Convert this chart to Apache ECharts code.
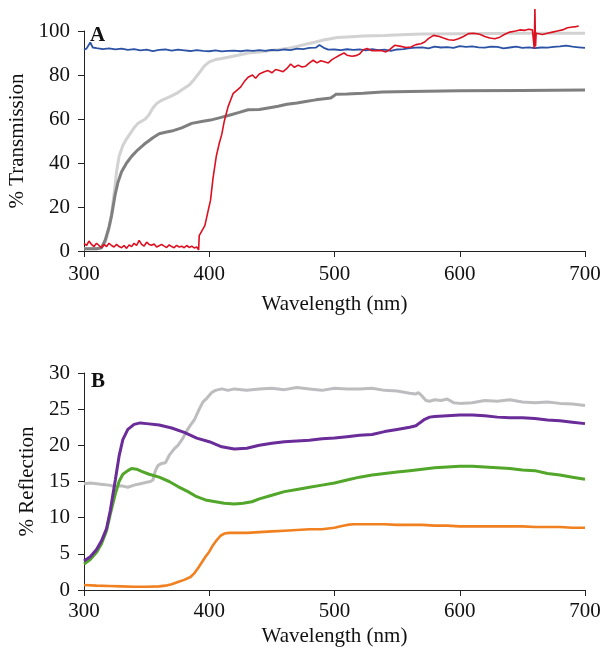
<!DOCTYPE html>
<html><head><meta charset="utf-8">
<script src="https://cdn.jsdelivr.net/npm/echarts@6/dist/echarts.min.js"></script>
<style>html,body{margin:0;padding:0;background:#fff}#c{width:600px;height:650px}</style>
</head><body><div id="c"></div>
<script>
// ---- Panel A: % Transmission ----
const xTicks = [300, 400, 500, 600, 700];
const transTicks = [0, 20, 40, 60, 80, 100];
const reflTicks = [0, 5, 10, 15, 20, 25, 30];

const blueX = [300,302,305,307,310,315,320,325,330,335,340,345,350,355,360,365,370,375,380,385,390,395,400,405,410,415,420,425,430,435,440,445,450,455,460,465,470,475,480,485,488,492,495,500,505,510,515,520,525,530,535,540,545,550,555,560,565,570,575,580,585,590,595,600,605,610,615,620,625,630,635,640,645,650,655,660,665,670,675,680,685,690,695,700];
const blueY = [91.5,92,94.8,92.5,92.2,91.8,92.1,91.6,92,91.4,91.8,91.2,91.5,90.9,91.4,91.6,91.1,91.5,91.2,90.9,91.3,91,90.8,91.2,90.7,91,91.1,90.8,91.2,91,91.3,91,91.4,91.2,91.6,91.3,92,91.8,92.3,92.4,93.6,92.2,91.5,91.6,91.3,91.7,91.4,91.6,91.2,91.7,91.3,91.5,91,91.6,91.8,92.2,92.4,92.6,92.1,92.9,92.5,92.7,92.3,93.1,92.8,93,92.6,92.4,92.9,92.8,92.1,92.5,92.9,92.3,92.6,92.2,92.5,92.4,92.8,93,93.4,92.9,92.6,92.3];

const lgrayX = [300,310,314,317,320,322,324,326,328,331,334,337,340,343,346,349,352,355,358,362,366,370,375,380,384,388,392,396,400,405,410,416,423,431,440,447,455,462,470,477,485,492,497,502,510,523,540,553,570,600,650,700];
const lgrayY = [1,1,1.5,4,10,17,26,36,43,48,51,53.5,56,58,59,60,62,65,67,68.5,69.5,70.5,72,74,75.5,78,81,84,86,87,87.5,88.2,89,90,90.5,91,91.5,92,93,94,95,96,96.5,97,97.3,97.7,98,98.3,98.6,98.8,99,99];

const dgrayX = [300,310,314,317,320,322,325,327,330,334,338,343,348,355,360,365,370,378,386,395,401,408,416,424,431,440,447,455,462,470,477,485,492,497,499,501,510,523,538,560,600,650,700];
const dgrayY = [1,1,1.5,5,11,16,26,31,36,40,43,46,48.5,51.5,53.3,54,54.5,56,58,59,59.5,60.5,61.7,63,64.2,64.3,65,65.8,66.7,67.3,68,68.7,69.2,69.5,70.3,71.2,71.4,71.7,72.3,72.5,72.8,73,73.2];

const redX = [300,302,304,306,308,310,312,314,316,318,320,322,324,326,328,330,332,334,336,338,340,342,344,346,348,350,352,354,356,358,360,362,364,366,368,370,372,374,376,378,380,382,384,386,388,390,391.5,392,394,396.5,399,401,403,405.6,408,410,412,415,417,419,422,425,428,431,434.5,437,440,444,447,450,453,456,459,462,465,468,471,474,477,480,483,486,489,492,495,498,501,504,507.6,510,514,517,520,523,526,530,534,538,541,544,548,553,557,561,565,569,572,575,579,583.7,587,591,595,599,603,607,611,616,620,624,628,632,636,640,644.6,648,652,655,658,659.5,660,660.5,661,662,666,670,674,678,682,686,690,693,695];
const redY = [3.5,2.5,4.5,3,2,3.5,2.5,1.5,3,2,3.5,2.5,1.8,3,2,1.5,2.5,1.2,2.8,2,3.5,2.5,4.8,3,2.2,4,3,2.6,3.2,1.8,2.4,3,2.2,1.6,2.8,2,1.5,2.6,1.8,2.2,1.5,2.5,1.6,2.2,1.4,1.8,0.5,7,9,11.5,18,23,33,43,49,53,59,65.5,68.5,71.5,73,74.5,77,79,80,78.5,80.5,81.5,82,81,82.5,82,81.5,83,85,83.5,84.5,83.6,84,85.5,86.7,85.5,86.5,86,85.5,87,88,89,90,89,88.5,88.8,89.5,91.5,92,91,91.2,91,90.5,91.5,93.5,93,92.5,92.7,93.8,94.2,95,96.5,98,97.5,96.8,96,95.8,96.5,97.5,98.8,99,98.5,97.5,96.8,96.5,97.2,98.5,99.5,100,100.5,100.3,100.8,100.5,92,110,93,99,98.8,98.4,99,99.5,100,100.5,101.5,101.8,102,102.3];

// ---- Panel B: % Reflection ----
const bgrayX = [300,305,310,315,320,325,330,335,340,345,350,353,355,357,359,362,365,368,372,375,379,382,385,388,392,395,398,402,405,410,415,420,430,440,450,460,470,480,490,500,510,520,530,540,550,560,565,567,570,573,576,580,585,590,595,600,610,620,630,640,650,660,670,680,690,700];
const bgrayY = [14.7,14.8,14.7,14.6,14.5,14.3,14.4,14.2,14.5,14.7,14.9,15,15.2,16.5,17.2,17.5,17.6,18.6,19.5,20,21,22,22.8,23.5,25,26,26.5,27.3,27.6,27.8,27.6,27.8,27.6,27.8,27.9,27.7,28,27.8,27.6,27.9,27.8,27.8,27.9,27.6,27.5,27.2,27.1,27.3,26.8,26.2,26.1,26.3,26.2,26.4,25.9,25.8,25.9,26.2,26.1,26.3,26.0,25.9,26.0,25.8,25.7,25.5];

const purpleX = [300,305,310,314,318,321,325,328,331,335,340,345,350,360,370,380,390,400,410,420,430,440,450,460,470,480,490,500,510,520,530,540,550,560,565,568,572,576,580,590,600,610,620,630,640,650,660,670,680,690,700];
const purpleY = [4,4.6,5.6,6.8,8.5,11,15.2,18.5,20.8,22.2,22.9,23.1,23,22.8,22.4,21.8,21,20.5,19.8,19.5,19.6,20,20.3,20.5,20.6,20.7,20.9,21,21.2,21.4,21.5,21.9,22.2,22.5,22.7,23.1,23.6,23.9,24,24.1,24.2,24.2,24.1,23.9,23.8,23.8,23.7,23.5,23.4,23.2,23];

const greenX = [300,305,310,314,318,321,325,328,331,335,338,342,346,352,360,368,375,383,390,398,405,412,420,427,434,440,450,460,470,480,490,500,510,520,530,540,550,560,570,580,590,600,610,620,630,640,650,660,670,680,690,700];
const greenY = [3.6,4.2,5.2,6.4,8.2,10.5,13.3,15,16,16.5,16.8,16.7,16.4,16,15.6,15,14.3,13.6,12.9,12.4,12.2,12,11.9,12,12.2,12.6,13.1,13.6,13.9,14.2,14.5,14.8,15.2,15.6,15.9,16.1,16.3,16.5,16.7,16.9,17,17.1,17.1,17,16.9,16.8,16.6,16.5,16.1,15.9,15.6,15.3];

const orangeX = [300,310,320,330,340,350,360,365,370,375,380,385,388,391,394,397,400,403,406,409,412,416,420,430,440,450,460,470,480,490,500,505,510,515,520,530,540,550,560,570,580,590,600,610,620,630,640,650,660,670,680,690,700];
const orangeY = [0.7,0.6,0.55,0.5,0.45,0.45,0.5,0.6,0.8,1.1,1.4,1.8,2.3,3,3.8,4.6,5.3,6.2,6.9,7.5,7.8,7.9,7.9,7.9,8,8.1,8.2,8.3,8.4,8.4,8.6,8.8,9,9.1,9.1,9.1,9.1,9.0,9.0,9.0,8.9,8.9,8.8,8.8,8.8,8.8,8.8,8.8,8.7,8.7,8.7,8.6,8.6];

const zip = (xs, ys) => xs.map((x, i) => [x, ys[i]]);
const FONT = 'Liberation Serif';

function xAxisCfg(gridIndex, gap, margin) {
  return {
    type: 'value', gridIndex, min: 300, max: 700, interval: 100,
    name: 'Wavelength (nm)', nameLocation: 'middle', nameGap: gap,
    nameTextStyle: { fontFamily: FONT, fontSize: 21, color: '#111' },
    axisLine: { show: true, onZero: false, lineStyle: { color: '#222', width: 1 } },
    axisTick: { show: true, inside: false, length: 6, lineStyle: { color: '#222' } },
    axisLabel: { fontFamily: FONT, fontSize: 21, color: '#111', margin,
      formatter: v => xTicks.includes(v) ? String(v) : '' },
    splitLine: { show: false }
  };
}
function yAxisCfg(gridIndex, ticks, name, gap) {
  return {
    type: 'value', gridIndex, min: ticks[0], max: ticks[ticks.length - 1],
    interval: ticks[1] - ticks[0],
    name, nameLocation: 'middle', nameGap: gap,
    nameTextStyle: { fontFamily: FONT, fontSize: 21, color: '#111' },
    axisLine: { show: true, lineStyle: { color: '#222', width: 1 } },
    axisTick: { show: true, inside: false, length: 6, lineStyle: { color: '#222' } },
    axisLabel: { fontFamily: FONT, fontSize: 21, color: '#111', margin: 14 },
    splitLine: { show: false }
  };
}
function line(name, xi, yi, data, color, width, z) {
  return { name, type: 'line', xAxisIndex: xi, yAxisIndex: yi, data, showSymbol: false,
    symbol: 'none', clip: false, z: z || 2, lineStyle: { color, width }, itemStyle: { color } };
}

const chart = echarts.init(document.getElementById('c'), null, { renderer: 'canvas' });
chart.setOption({
  animation: false,
  backgroundColor: '#fff',
  grid: [
    { left: 84, top: 31, width: 501, height: 220, containLabel: false, outerBoundsMode: 'none' },
    { left: 84, top: 373, width: 501, height: 217, containLabel: false, outerBoundsMode: 'none' }
  ],
  xAxis: [xAxisCfg(0, 43, 13), xAxisCfg(1, 36, 11)],
  yAxis: [yAxisCfg(0, transTicks, '% Transmission', 47), yAxisCfg(1, reflTicks, '% Reflection', 42)],
  graphic: [
    { type: 'text', left: 90, top: 25, style: { text: 'A', font: 'bold 21px "Liberation Serif"', fill: '#111' } },
    { type: 'text', left: 91, top: 371, style: { text: 'B', font: 'bold 21px "Liberation Serif"', fill: '#111' } }
  ],
  series: [
    line('light gray', 0, 0, zip(lgrayX, lgrayY), '#d2d2d2', 3, 2),
    line('dark gray', 0, 0, zip(dgrayX, dgrayY), '#7f7f7f', 3, 3),
    line('blue', 0, 0, zip(blueX, blueY), '#2b52a5', 1.8, 4),
    line('red', 0, 0, zip(redX, redY), '#dc1020', 1.6, 5),
    line('gray B', 1, 1, zip(bgrayX, bgrayY), '#bdbdbf', 3, 2),
    line('orange', 1, 1, zip(orangeX, orangeY), '#f08020', 2.6, 3),
    line('green', 1, 1, zip(greenX, greenY), '#52a62a', 3, 4),
    line('purple', 1, 1, zip(purpleX, purpleY), '#6a2c98', 3, 5)
  ]
});
</script></body></html>
